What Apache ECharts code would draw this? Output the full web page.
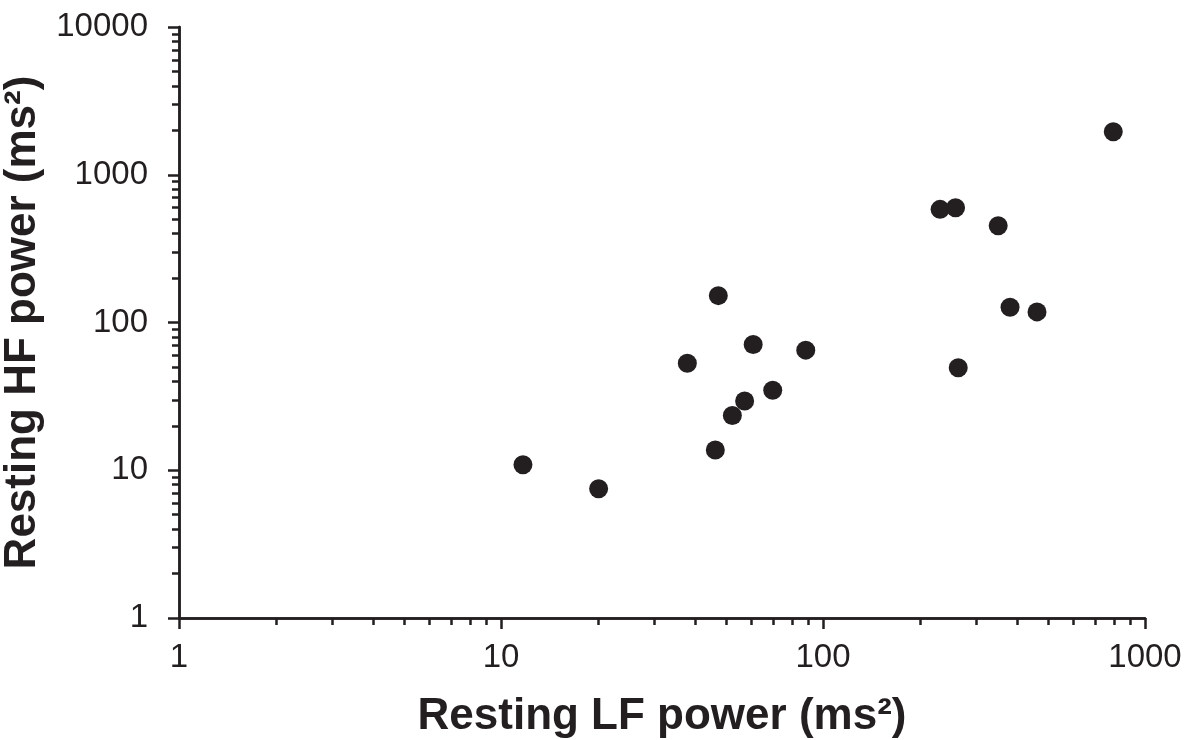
<!DOCTYPE html>
<html>
<head>
<meta charset="utf-8">
<script src="https://cdn.jsdelivr.net/npm/echarts@6/dist/echarts.min.js"></script>
<style>
  html, body { margin: 0; padding: 0; background: #fff; }
  #chart { width: 1184px; height: 740px; }
</style>
</head>
<body>
<div id="chart"></div>
<script>
// resting LF power (x) and HF power (y), ms^2
var lfPower = [11.7, 20.1, 37.9, 47.3, 46.3, 60.7, 52.3, 57.1, 69.8, 88.4, 231, 258, 350, 381, 462, 263, 797]
var hfPower = [10.9, 7.5, 53, 152, 13.7, 71, 23.5, 29.4, 34.8, 65, 583, 598, 452, 127, 118, 49.4, 1956]

var xMajor = [1, 10, 100, 1000]
var yMajor = [1, 10, 100, 1000, 10000]
var xMinor = [2, 3, 4, 5, 6, 7, 8, 9, 20, 30, 40, 50, 60, 70, 80, 90, 200, 300, 400, 500, 600, 700, 800, 900]
var yMinor = [2, 3, 4, 5, 6, 7, 8, 9, 20, 30, 40, 50, 60, 70, 80, 90, 200, 300, 400, 500, 600, 700, 800, 900,
  2000, 3000, 4000, 5000, 6000, 7000, 8000, 9000]

var ink = '#231f20'
var font = 'Liberation Sans, Arial, sans-serif'

var points = lfPower.map(function (x, i) { return [x, hfPower[i]] })

function majorAxis(name, ticks, min, max, isY) {
  return {
    type: 'log',
    logBase: 10,
    position: isY ? 'left' : 'bottom',
    min: min,
    max: max,
    name: name,
    nameLocation: 'middle',
    nameGap: isY ? 131 : 77,
    nameTextStyle: { fontFamily: font, fontWeight: 'bold', fontSize: 44, color: ink },
    axisLine: { show: true, lineStyle: { color: ink, width: 2.5 } },
    axisTick: { show: true, inside: false, length: 11, customValues: ticks, lineStyle: { color: ink, width: 2.5 } },
    axisLabel: {
      show: true,
      customValues: ticks,
      margin: isY ? 31 : 23,
      fontFamily: font,
      fontSize: 33,
      color: ink,
      formatter: function (v) { return String(v) }
    },
    splitLine: { show: false },
    minorTick: { show: false }
  }
}

function minorAxis(ticks, min, max, isY) {
  return {
    type: 'log',
    logBase: 10,
    position: isY ? 'left' : 'bottom',
    offset: 0,
    min: min,
    max: max,
    axisLine: { show: true, lineStyle: { color: ink, width: 2.5 } },
    axisTick: { show: true, inside: false, length: 7, customValues: ticks, lineStyle: { color: ink, width: 2.5 } },
    axisLabel: { show: false },
    splitLine: { show: false }
  }
}

var chart = echarts.init(document.getElementById('chart'), null, { renderer: 'canvas' })
chart.setOption({
  animation: false,
  backgroundColor: '#fff',
  grid: { left: 179, right: 39, top: 27, bottom: 122, containLabel: false, outerBoundsMode: 'none' },
  xAxis: [
    majorAxis('Resting LF power (ms²)', xMajor, 1, 1000, false),
    minorAxis(xMinor, 1, 1000, false)
  ],
  yAxis: [
    majorAxis('Resting HF power (ms²)', yMajor, 1, 10000, true),
    minorAxis(yMinor, 1, 10000, true)
  ],
  series: [
    {
      type: 'scatter',
      xAxisIndex: 0,
      yAxisIndex: 0,
      symbol: 'circle',
      symbolSize: 19,
      itemStyle: { color: ink, opacity: 1 },
      data: points
    }
  ]
})
</script>
</body>
</html>
